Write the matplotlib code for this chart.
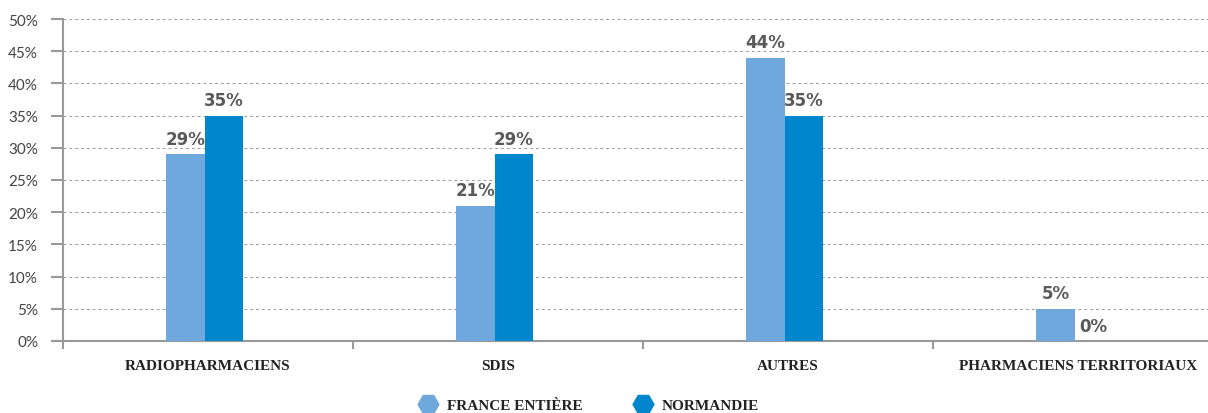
import numpy as np
import matplotlib
matplotlib.use("Agg")
from matplotlib import pyplot as plt
from matplotlib.lines import Line2D

categories = ["RADIOPHARMACIENS", "SDIS", "AUTRES", "PHARMACIENS TERRITORIAUX"]
france = [29, 21, 44, 5]
normandie = [35, 29, 35, 0]
series_names = ["FRANCE ENTIÈRE", "NORMANDIE"]
colors = ["#6FA8DC", "#0086CC"]

fig = plt.figure(figsize=(12.08, 4.14), dpi=100)
ax = fig.add_axes([63 / 1208, 72 / 414, 1160 / 1208, 322 / 414])

x = np.arange(len(categories))
w = 0.132
shift = -0.012
for i, (vals, col) in enumerate(zip([france, normandie], colors)):
    pos = x + (i - 0.5) * w + shift
    ax.bar(pos, vals, width=w, color=col, zorder=3)
    for p, v in zip(pos, vals):
        ax.text(p, v + 1.0, f"{v}%", ha="center", va="bottom", fontsize=12,
                fontweight="bold", color="#595959", family="DejaVu Sans", zorder=4)

ax.set_xlim(-0.5, len(categories) - 0.5)
ax.set_ylim(0, 50)
ax.set_yticks(np.arange(0, 51, 5))
ax.set_yticklabels([f"{t}%" for t in range(0, 51, 5)], fontsize=11, color="#444444",
                   family="Lato")
ax.yaxis.grid(True, linestyle=(0, (3, 3)), color="#9a9a9a", linewidth=0.7, zorder=0)

ax.set_xticks(np.arange(-0.5, len(categories), 1))
ax.set_xticklabels([])
ax.set_xticks(x, minor=True)
ax.set_xticklabels(categories, minor=True, fontsize=11, fontweight="bold",
                   family="Liberation Serif", color="#222222")
ax.tick_params(axis="x", which="minor", length=0, pad=13)
ax.tick_params(axis="x", which="major", length=6, color="#999999", width=1.5)
ax.tick_params(axis="y", length=9, color="#999999", width=1.5, pad=9)

for s in ["top", "right"]:
    ax.spines[s].set_visible(False)
for s in ["left", "bottom"]:
    ax.spines[s].set_color("#999999")
    ax.spines[s].set_linewidth(1.5)

handles = [Line2D([], [], marker="H", linestyle="none", markersize=15,
                  markerfacecolor=c, markeredgecolor=c) for c in colors]
leg = fig.legend(handles, series_names, loc="center", bbox_to_anchor=(0.485, 8 / 414),
                 ncol=2, frameon=False, columnspacing=3.0, handletextpad=0.2,
                 prop={"family": "Liberation Serif", "weight": "bold", "size": 11})
for t in leg.get_texts():
    t.set_color("#222222")

fig.savefig("out.png", dpi=100)
